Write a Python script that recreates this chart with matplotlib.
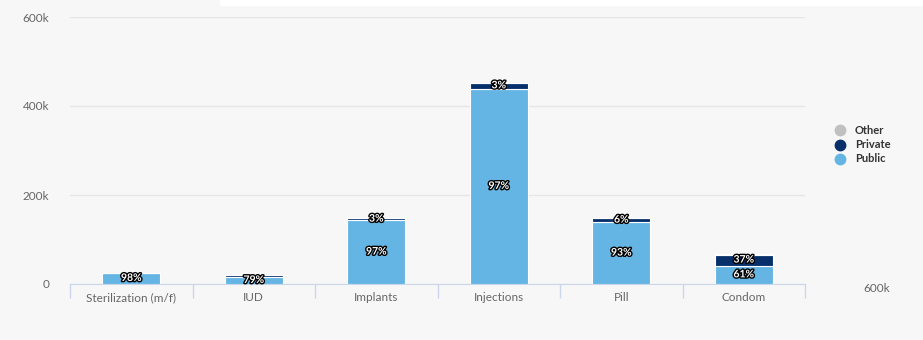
import matplotlib.pyplot as plt
import matplotlib.patheffects as pe
from matplotlib.patches import Rectangle
from matplotlib.lines import Line2D
import numpy as np

# valores (em unidades)
metodos = ["Sterilization (m/f)", "IUD", "Implants", "Injections", "Pill", "Condom"]
publico = [25000, 15800, 143500, 438500, 139000, 41200]
privado = [500, 4000, 4500, 13500, 9000, 25000]
outro = [0, 200, 0, 0, 1000, 1400]

cor_publico = "#64b5e3"
cor_privado = "#07306b"
cor_outro = "#c0c0c0"
cor_texto = "#666666"

plt.rcParams["font.family"] = ["Lato", "DejaVu Sans"]

fig = plt.figure(figsize=(9.23, 3.4), dpi=100)
fig.patch.set_facecolor("#f7f7f7")
# faixa branca no topo
fig.add_artist(Rectangle((220 / 923, 1 - 5 / 340), 1, 5 / 340,
                         transform=fig.transFigure, color="white", zorder=0))

ax = fig.add_axes([70 / 923, 56 / 340, 735 / 923, 267 / 340])
ax.set_facecolor("none")

x = np.arange(len(metodos))
larg = 0.475
base2 = np.array(publico)
base3 = base2 + np.array(privado)
ax.bar(x, publico, larg, color=cor_publico, edgecolor="white", linewidth=0.8, zorder=3)
ax.bar(x, privado, larg, bottom=base2, color=cor_privado, edgecolor="white", linewidth=0.8, zorder=3)
ax.bar(x, outro, larg, bottom=base3, color=cor_outro, edgecolor="white", linewidth=0.8, zorder=3)

contorno = [pe.withStroke(linewidth=2, foreground="black")]
for i in range(len(metodos)):
    total = publico[i] + privado[i] + outro[i]
    c_pub = publico[i] / 2
    c_priv = publico[i] + privado[i] / 2
    ax.text(x[i], c_pub, f"{round(100 * publico[i] / total)}%", ha="center", va="center",
            color="white", fontsize=7.5, fontweight="bold", path_effects=contorno, zorder=5)
    # rótulos que se sobrepõem são escondidos
    if c_priv - c_pub > 22000:
        ax.text(x[i], c_priv, f"{round(100 * privado[i] / total)}%", ha="center", va="center",
                color="white", fontsize=7.5, fontweight="bold", path_effects=contorno, zorder=5)

ax.set_xlim(-0.5, len(metodos) - 0.5)
ax.set_ylim(0, 600000)
ax.set_yticks([0, 200000, 400000, 600000])
ax.set_yticklabels(["0", "200k", "400k", "600k"])
ax.yaxis.grid(True, color="#e6e6e6", linewidth=1)
ax.set_axisbelow(True)
ax.tick_params(axis="y", length=0, pad=15, labelsize=8.5, labelcolor=cor_texto)

ax.set_xticks(x)
ax.set_xticklabels(metodos)
ax.set_xticks(np.arange(-0.5, len(metodos)), minor=True)
ax.tick_params(axis="x", which="major", length=0, pad=6, labelsize=8.5, labelcolor=cor_texto)
ax.tick_params(axis="x", which="minor", length=10, color="#ccd6eb", width=1)

for lado in ["top", "right", "left"]:
    ax.spines[lado].set_visible(False)
ax.spines["bottom"].set_color("#ccd6eb")

# legenda
series = [("Other", cor_outro), ("Private", cor_privado), ("Public", cor_publico)]
for k, (nome, cor) in enumerate(series):
    yk = 1 - (130 + 14.5 * k) / 340
    fig.add_artist(Line2D([840 / 923], [yk], marker="o", markersize=7.5, color=cor,
                          linestyle="none", transform=fig.transFigure))
    fig.text(855 / 923, yk, nome, color="#333333", fontsize=8, fontweight="bold",
             ha="left", va="center")

fig.text(877 / 923, 1 - 289 / 340, "600k", color=cor_texto, fontsize=8.5, ha="center", va="center")

fig.savefig("out.png", dpi=100, facecolor=fig.get_facecolor())
